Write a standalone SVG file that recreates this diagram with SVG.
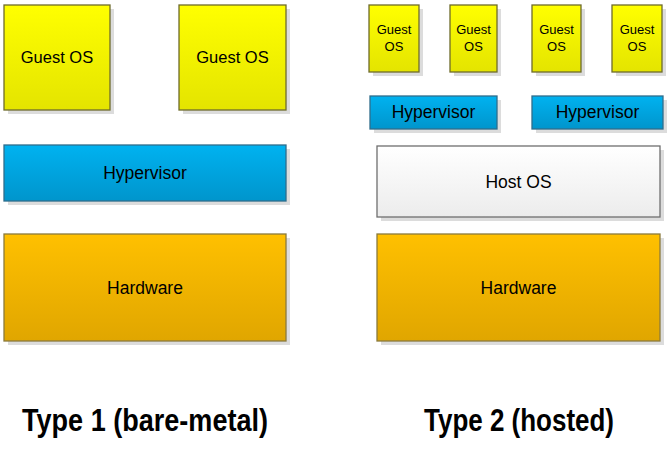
<svg xmlns="http://www.w3.org/2000/svg" width="669" height="456" viewBox="0 0 669 456">
<style>
text{font-family:"Liberation Sans",Arial,sans-serif;fill:#000;text-anchor:middle}
.l{font-size:17.5px}
.m{font-size:16.5px}
.s{font-size:13px}
.t{font-size:31px;font-weight:bold}
.sh{fill:#dcdcdc}
.g{fill:url(#gy);stroke:#6e6b2c;stroke-width:1.3}
.h{fill:url(#gb);stroke:#2f6d8c;stroke-width:1.3}
.w{fill:url(#gh);stroke:#8a7a3c;stroke-width:1.3}
.o{fill:url(#gw);stroke:#6f6f6f;stroke-width:1.3}
</style>
<defs>
<linearGradient id="gy" x1="0" y1="0" x2="0" y2="1"><stop offset="0" stop-color="#ffff00"/><stop offset="1" stop-color="#e4e400"/></linearGradient>
<linearGradient id="gb" x1="0" y1="0" x2="0" y2="1"><stop offset="0" stop-color="#00b2f0"/><stop offset="1" stop-color="#0095cc"/></linearGradient>
<linearGradient id="gh" x1="0" y1="0" x2="0" y2="1"><stop offset="0" stop-color="#ffc000"/><stop offset="1" stop-color="#e0a600"/></linearGradient>
<linearGradient id="gw" x1="0" y1="0" x2="0" y2="1"><stop offset="0" stop-color="#ffffff"/><stop offset="1" stop-color="#ececec"/></linearGradient>
</defs>
<g id="type1-guest1"><rect class="sh" x="8" y="9" width="106" height="105"/><rect class="g" x="4" y="5" width="106" height="105"/><text class="m" x="57" y="63">Guest OS</text></g>
<g id="type1-guest2"><rect class="sh" x="183" y="9" width="107" height="105"/><rect class="g" x="179" y="5" width="107" height="105"/><text class="m" x="232.5" y="63">Guest OS</text></g>
<g id="type1-hypervisor"><rect class="sh" x="8" y="149" width="282" height="56"/><rect class="h" x="4" y="145" width="282" height="56"/><text class="l" x="145" y="179">Hypervisor</text></g>
<g id="type1-hardware"><rect class="sh" x="8" y="238" width="282" height="107"/><rect class="w" x="4" y="234" width="282" height="107"/><text class="l" x="145" y="294">Hardware</text></g>
<g id="type2-guest1"><rect class="sh" x="373" y="9" width="50" height="67"/><rect class="g" x="369" y="5" width="50" height="67"/><text class="s" x="394" y="34">Guest</text><text class="s" x="394" y="51">OS</text></g>
<g id="type2-guest2"><rect class="sh" x="454" y="9" width="47" height="67"/><rect class="g" x="450" y="5" width="47" height="67"/><text class="s" x="473.5" y="34">Guest</text><text class="s" x="473.5" y="51">OS</text></g>
<g id="type2-guest3"><rect class="sh" x="536" y="9" width="49" height="67"/><rect class="g" x="532" y="5" width="49" height="67"/><text class="s" x="556.5" y="34">Guest</text><text class="s" x="556.5" y="51">OS</text></g>
<g id="type2-guest4"><rect class="sh" x="616" y="9" width="50" height="67"/><rect class="g" x="612" y="5" width="50" height="67"/><text class="s" x="637" y="34">Guest</text><text class="s" x="637" y="51">OS</text></g>
<g id="type2-hypervisor1"><rect class="sh" x="374" y="100" width="127" height="33"/><rect class="h" x="370" y="96" width="127" height="33"/><text class="l" x="433.5" y="118">Hypervisor</text></g>
<g id="type2-hypervisor2"><rect class="sh" x="536" y="100" width="131" height="33"/><rect class="h" x="532" y="96" width="131" height="33"/><text class="l" x="597.5" y="118">Hypervisor</text></g>
<g id="type2-hostos"><rect class="sh" x="381" y="150" width="283" height="71"/><rect class="o" x="377" y="146" width="283" height="71"/><text class="l" x="518.5" y="188">Host OS</text></g>
<g id="type2-hardware"><rect class="sh" x="381" y="238" width="283" height="107"/><rect class="w" x="377" y="234" width="283" height="107"/><text class="l" x="518.5" y="294">Hardware</text></g>
<g id="connectors"></g>
<text class="t" x="145" y="431" textLength="246" lengthAdjust="spacingAndGlyphs">Type 1 (bare-metal)</text>
<text class="t" x="519" y="431" textLength="190" lengthAdjust="spacingAndGlyphs">Type 2 (hosted)</text>
</svg>
